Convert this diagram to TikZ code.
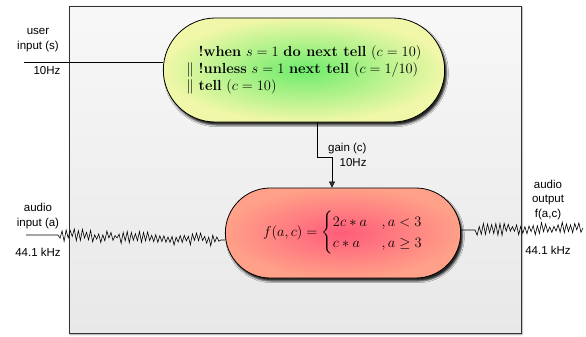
\documentclass[tikz,border=0pt]{standalone}
\usepackage{amsmath}
\usepackage{fontspec}
\setsansfont{Liberation Sans}
\usetikzlibrary{shapes.misc,shadows.blur,arrows.meta,calc}
\definecolor{ctrlin}{RGB}{110,236,108}
\definecolor{ctrlout}{RGB}{240,247,168}
\definecolor{filtin}{RGB}{255,92,122}
\definecolor{filtout}{RGB}{255,160,136}
\begin{document}
\begin{tikzpicture}[x=1pt,y=-1pt,
  lbl/.style={font=\sffamily\fontsize{11.5}{14.5}\selectfont,align=center,inner sep=0pt},
  proc/.style={rounded rectangle,draw=black,line width=0.8pt,
    font=\fontsize{14.6}{17}\selectfont,
    blur shadow={shadow xshift=2pt,shadow yshift=-3pt,shadow opacity=85,shadow blur steps=3,shadow blur extra rounding=1pt}},
  wire/.style={line width=0.6pt}]
\useasboundingbox (0,0) rectangle (586,337);
\pgfmathsetseed{23}
% frame
\draw[line width=0.8pt,draw=black!80,top color=black!3,bottom color=black!9,
  blur shadow={shadow xshift=1pt,shadow yshift=-1.5pt,shadow opacity=45}] (69,6) rectangle (521,333);
% blocks
\node[proc,align=left,minimum width=288pt,minimum height=104pt,inner color=ctrlin,outer color=ctrlout] (ctrl) at (304,70)
  {$\phantom{\|}$ \textbf{!when} $s=1$ \textbf{do next tell} $(c=10)$\\
   $\|$ \textbf{!unless} $s=1$ \textbf{next tell} $(c=1/10)$\\
   $\|$ \textbf{tell} $(c=10)$};
\node[proc,minimum width=242pt,minimum height=90pt,inner color=filtin,outer color=filtout] (filt) at (343,233)
  {$f(a,c)=\begin{cases}2c*a & ,a<3\\ c*a & ,a\geq 3\end{cases}$};
% connectors
\coordinate (uin) at (24,62);
\coordinate (ain) at (26,235);
\coordinate (aw) at (58,235);
\coordinate (ae) at ([xshift=-4pt,yshift=-7pt]filt.west);
\coordinate (ow) at ([xshift=14pt,yshift=3pt]filt.east);
\coordinate (aout) at (583,228);
\draw[wire] (uin) -- (ctrl.west |- uin);
\draw[wire,-{Triangle[length=6pt,width=6pt]}] ([xshift=13pt]ctrl.south) -- ++(0,35) -| ([xshift=-11pt]filt.north);
\draw[wire] (ain) -- (aw) \foreach \i in {1,...,79} {-- ($(aw)!\i/80!(ae) + (0,{ifthenelse(isodd(\i),1,-1)*(1+5.5*rnd)})$)} -- (ae) -- ([yshift=-7pt]filt.west);
\draw[wire] ([yshift=3pt]filt.east) -- (ow) \foreach \i in {1,...,51} {-- ($(ow)!\i/52!(aout) + (0,{ifthenelse(isodd(\i),1,-1)*(1+5.5*rnd)})$)} -- (aout);
% labels
\node[lbl] (ulbl) at (38,40) {user\\input (s)};
\node[lbl] (urate) at (47,71) {10Hz};
\node[lbl,align=right,anchor=west] (glbl) at (328,155) {gain (c)\\10Hz};
\node[lbl] (albl) at (38,216) {audio\\input (a)};
\node[lbl] (arate) at (38,252) {44.1 kHz};
\node[lbl] (olbl) at (548,200) {audio\\output\\f(a,c)};
\node[lbl] (orate) at (548,250) {44.1 kHz};
\end{tikzpicture}
\end{document}
